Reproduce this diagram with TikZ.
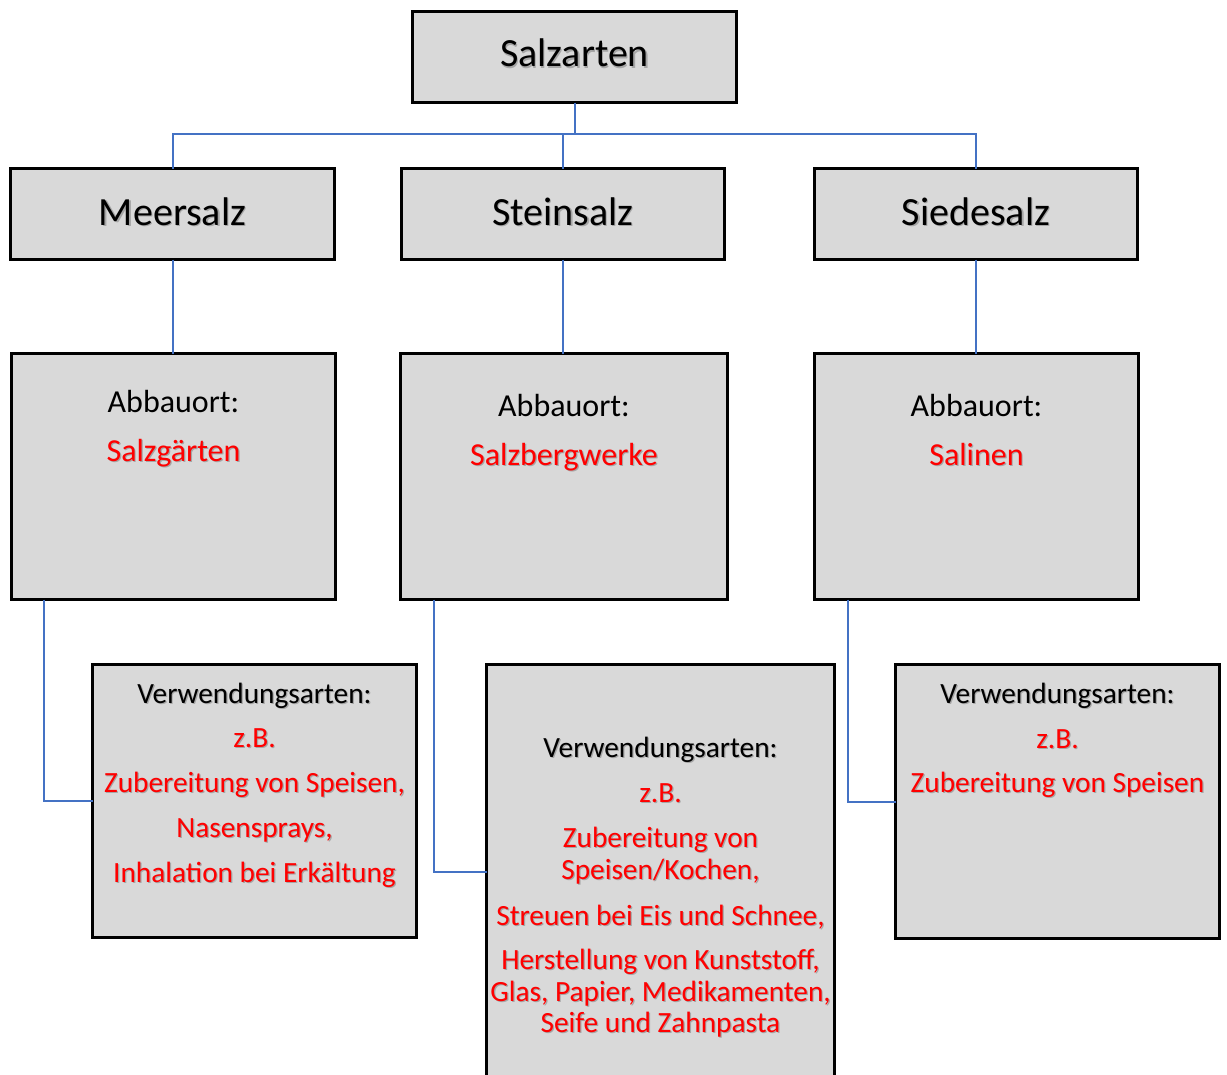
\documentclass[tikz,border=0pt]{standalone}
\usepackage{fontspec}
\setmainfont{Carlito}
\usetikzlibrary{calc}
\definecolor{boxgray}{HTML}{D9D9D9}
\definecolor{connblue}{HTML}{4472C4}
\definecolor{txtred}{HTML}{FF0000}
\definecolor{shadowgray}{HTML}{A6A6A6}
\newcommand{\shtxt}[1]{\makebox[0pt][l]{\raisebox{-0.9pt}{\hspace{0.9pt}\textcolor{shadowgray}{#1}}}#1}
\tikzset{
  bx/.style 2 args={draw=black, line width=2.3pt, fill=boxgray, rectangle,
    inner sep=0pt, outer sep=0pt, minimum width=#1*0.75pt, minimum height=#2*0.75pt},
  conn/.style={draw=connblue, line width=1.5pt},
  ttl/.style={anchor=base, inner sep=0pt, font=\fontsize{30}{36}\selectfont},
  abb/.style={anchor=base, inner sep=0pt, font=\fontsize{24}{29}\selectfont},
  ver/.style={anchor=base, inner sep=0pt, font=\fontsize{22}{26}\selectfont},
  red/.style={text=txtred}
}
\begin{document}
\begin{tikzpicture}[x=0.75pt, y=-0.75pt]
\useasboundingbox (0,0) rectangle (1227,1074);
% boxes
\node[bx={324}{91}] (top) at (574.5,57) {};
\node[bx={324}{91}] (meer) at (172.5,214) {};
\node[bx={323}{91}] (stein) at (563,214) {};
\node[bx={323}{91}] (siede) at (976,214) {};
\node[bx={324}{246}] (ab1) at (173.5,476.5) {};
\node[bx={327}{246}] (ab2) at (564,476.5) {};
\node[bx={324}{246}] (ab3) at (976.5,476.5) {};
\node[bx={324}{273}] (ve1) at (254.5,801) {};
\node[bx={348}{440}] (ve2) at (660.5,884.5) {};
\node[bx={324}{274}] (ve3) at (1057.5,801.5) {};
% connectors
\coordinate (bus) at (574.5,134);
\draw[conn] (meer.north) |- (bus) -| (siede.north);
\draw[conn] (top.south) -- (bus) -| (stein.north);
\draw[conn] (meer.south) -- (meer.south |- ab1.north);
\draw[conn] (stein.south) -- (stein.south |- ab2.north);
\draw[conn] (siede.south) -- (siede.south |- ab3.north);
\draw[conn] ($(ab1.south west)+(32,0)$) |- (ve1.west);
\draw[conn] ($(ab2.south west)+(33,0)$) |- ($(ve2.north west)+(0,207.5)$);
\draw[conn] ($(ab3.south west)+(33,0)$) |- (ve3.west);
% titles
\node[ttl] (t0) at (574.5,67) {\shtxt{Salzarten}};
\node[ttl] (t1) at (172.5,225) {\shtxt{Meersalz}};
\node[ttl] (t2) at (563,225) {\shtxt{Steinsalz}};
\node[ttl] (t3) at (976,225) {\shtxt{Siedesalz}};
% Abbauort
\node[abb] (a1) at (173.5,412) {Abbauort:};
\node[abb,red] (a1r) at (173.5,461) {\shtxt{Salzgärten}};
\node[abb] (a2) at (564,416) {Abbauort:};
\node[abb,red] (a2r) at (564,465) {\shtxt{Salzbergwerke}};
\node[abb] (a3) at (976.5,416) {Abbauort:};
\node[abb,red] (a3r) at (976.5,465) {\shtxt{Salinen}};
% Verwendung left
\node[ver] (v1a) at (254.5,703) {\shtxt{Verwendungsarten:}};
\node[ver,red] (v1b) at (254.5,747) {\shtxt{z.B.}};
\node[ver,red] (v1c) at (254.5,792) {\shtxt{Zubereitung von Speisen,}};
\node[ver,red] (v1d) at (254.5,837) {\shtxt{Nasensprays,}};
\node[ver,red] (v1e) at (254.5,882) {\shtxt{Inhalation bei Erkältung}};
% Verwendung middle
\node[ver] (v2a) at (660.5,757) {\shtxt{Verwendungsarten:}};
\node[ver,red] (v2b) at (660.5,802) {\shtxt{z.B.}};
\node[ver,red] (v2c) at (660.5,847) {\shtxt{Zubereitung von}};
\node[ver,red] (v2d) at (660.5,879) {\shtxt{Speisen/Kochen,}};
\node[ver,red] (v2e) at (660.5,925) {\shtxt{Streuen bei Eis und Schnee,}};
\node[ver,red] (v2f) at (660.5,969) {\shtxt{Herstellung von Kunststoff,}};
\node[ver,red] (v2g) at (660.5,1001) {\shtxt{Glas, Papier, Medikamenten,}};
\node[ver,red] (v2h) at (660.5,1032) {\shtxt{Seife und Zahnpasta}};
% Verwendung right
\node[ver] (v3a) at (1057.5,703) {\shtxt{Verwendungsarten:}};
\node[ver,red] (v3b) at (1057.5,748) {\shtxt{z.B.}};
\node[ver,red] (v3c) at (1057.5,792) {\shtxt{Zubereitung von Speisen}};
\end{tikzpicture}
\end{document}
